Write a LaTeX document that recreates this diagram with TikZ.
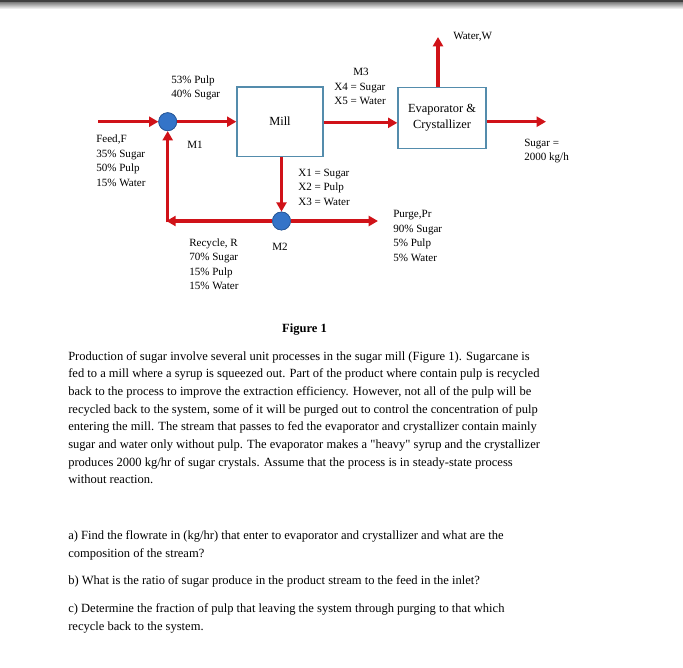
\documentclass[tikz,border=0pt]{standalone}
\usepackage{fontspec}
\setmainfont{Liberation Serif}
\font\qfont="Liberation Serif" at 9.4pt
\usetikzlibrary{arrows.meta}
\definecolor{arrred}{RGB}{208,18,24}
\definecolor{boxblue}{RGB}{84,140,172}
\definecolor{mixblue}{RGB}{52,116,200}
\tikzset{
  flow/.style={draw=arrred, line width=2.3pt, -{Triangle[length=7pt,width=7.5pt]}},
  unitbox/.style={draw=boxblue, line width=1pt, fill=white, inner sep=0, font=\fontsize{9.3}{12}\selectfont},
  mixer/.style={circle, fill=mixblue, draw=mixblue!75!black, line width=0.5pt, minimum size=13.5pt, inner sep=0},
  lbl/.style={font=\fontsize{8.3}{11}\selectfont, anchor=base west, inner sep=0},
  body/.style={font=\fontsize{9.4}{12}\selectfont, anchor=base west, inner sep=0},
}
\begin{document}
\begin{tikzpicture}[x=0.75pt,y=-0.75pt]
\useasboundingbox (0,0) rectangle (683,668);
\fill[white] (0,0) rectangle (683,668);
\shade[top color=black!55, bottom color=white] (0,1.5) rectangle (683,9);
\fill[black!75] (0,0) rectangle (683,1.8);

% units
\node[unitbox, minimum width=64.5pt, minimum height=52pt] (mill) at (280,121.5) {Mill};
\node[unitbox, minimum width=66pt, minimum height=45.5pt, align=center] (evap) at (442,118) {Evaporator \&\\ Crystallizer};
\node[mixer] (m1) at (167.7,121.7) {};
\node[mixer] (m2) at (281.5,221) {};

\coordinate (feedin) at (98,121.7);
\coordinate (corner) at (167.7,221);
\coordinate (purgeout) at (378,221);
\coordinate (waterout) at (438,37);
\coordinate (sugarout) at (546,121.7);

% streams
\draw[flow] (feedin) -- (m1);
\draw[flow] (m1) -- (mill.west |- m1);
\draw[flow] ([yshift=-1pt]mill.east) -- ([yshift=-1pt]mill.east -| evap.west);
\draw[flow] (mill.south -| m2) -- (m2.north);
\draw[flow] (m2) -- (purgeout);
\draw[flow] (m2) -- ([xshift=-1pt]corner);
\draw[flow] ([yshift=-1.1pt]corner) -- (m1);
\draw[flow] (evap.north -| waterout) -- (waterout);
\draw[flow] (evap.east |- sugarout) -- (sugarout);
\node[mixer] at (m1) {};
\node[mixer] at (m2) {};

% labels
\node[lbl] (l53) at (171,83.5) {53\% Pulp};
\node[lbl] (l40) at (171,97.5) {40\% Sugar};
\node[lbl] (lm3) at (353,75.5) {M3};
\node[lbl] (lx4) at (334,90) {X4 = Sugar};
\node[lbl] (lx5) at (334,104.5) {X5 = Water};
\node[lbl] (lm1) at (187,148.5) {M1};
\node[lbl] (lf) at (96,142.5) {Feed,F};
\node[lbl] (lf1) at (96,157) {35\% Sugar};
\node[lbl] (lf2) at (96,171.5) {50\% Pulp};
\node[lbl] (lf3) at (96,186) {15\% Water};
\node[lbl] (lx1) at (298,176) {X1 = Sugar};
\node[lbl] (lx2) at (298,190.5) {X2 = Pulp};
\node[lbl] (lx3) at (298,205) {X3 = Water};
\node[lbl] (lw) at (453,39.5) {Water,W};
\node[lbl] (ls1) at (524,146) {Sugar =};
\node[lbl] (ls2) at (524,160) {2000 kg/h};
\node[lbl] (lp) at (393,217.5) {Purge,Pr};
\node[lbl] (lp1) at (393,232) {90\% Sugar};
\node[lbl] (lp2) at (393,246.5) {5\% Pulp};
\node[lbl] (lp3) at (393,261) {5\% Water};
\node[lbl] (lr) at (189,246) {Recycle, R};
\node[lbl] (lr1) at (189,260.5) {70\% Sugar};
\node[lbl] (lr2) at (189,275) {15\% Pulp};
\node[lbl] (lr3) at (189,289.5) {15\% Water};
\node[lbl] (lm2) at (272,250) {M2};

% caption and text
\node[body, font=\fontsize{9.4}{12}\selectfont\bfseries, anchor=base] (fig) at (304.5,332) {Figure 1};
\node[body] (t1) at (68,360) {Production of sugar involve several unit processes in the sugar mill (Figure 1). Sugarcane is};
\node[body] (t2) at (68,377.7) {fed to a mill where a syrup is squeezed out. Part of the product where contain pulp is recycled};
\node[body] (t3) at (68,395.4) {back to the process to improve the extraction efficiency. However, not all of the pulp will be};
\node[body] (t4) at (68,413.1) {recycled back to the system, some of it will be purged out to control the concentration of pulp};
\node[body] (t5) at (68,430.8) {entering the mill. The stream that passes to fed the evaporator and crystallizer contain mainly};
\node[body] (t6) at (68,448.5) {sugar and water only without pulp. The evaporator makes a {\qfont"}heavy{\qfont"} syrup and the crystallizer};
\node[body] (t7) at (68,466.2) {produces 2000 kg/hr of sugar crystals. Assume that the process is in steady-state process};
\node[body] (t8) at (68,483.9) {without reaction.};
\node[body] (qa1) at (68,539.7) {a) Find the flowrate in (kg/hr) that enter to evaporator and crystallizer and what are the};
\node[body] (qa2) at (68,557.3) {composition of the stream?};
\node[body] (qb) at (68,584) {b) What is the ratio of sugar produce in the product stream to the feed in the inlet?};
\node[body] (qc1) at (68,612.3) {c) Determine the fraction of pulp that leaving the system through purging to that which};
\node[body] (qc2) at (68,630) {recycle back to the system.};
\end{tikzpicture}
\end{document}
